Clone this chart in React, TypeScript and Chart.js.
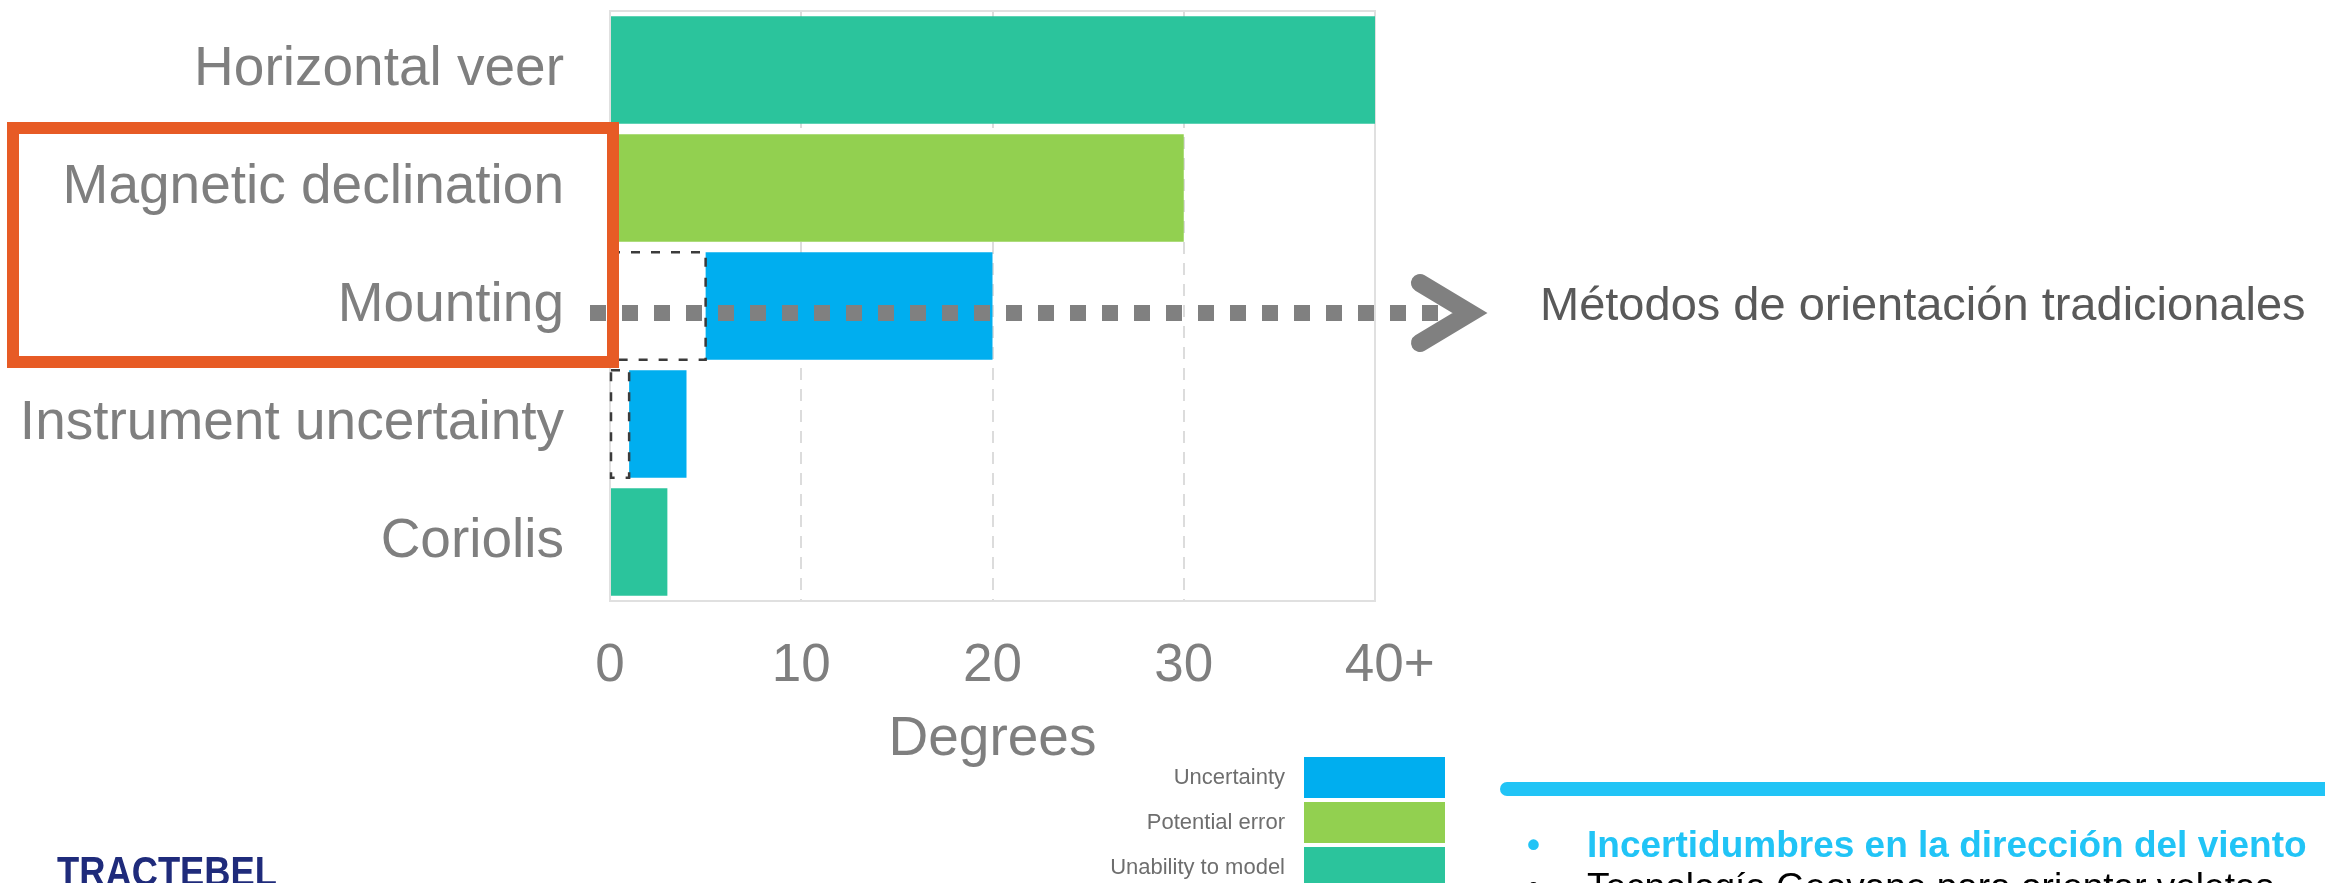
import { useEffect, useRef } from 'react';
import { Chart, registerables } from 'chart.js';

Chart.register(...registerables);

// ---- data -------------------------------------------------------------
const categories = [
  'Horizontal veer',
  'Magnetic declination',
  'Mounting',
  'Instrument uncertainty',
  'Coriolis',
];
// invisible start of a range (drawn as a dashed outline)
const lowerBound = [0, 0, 5, 1, 0];
const uncertainty = [0, 0, 15, 3, 0];
const potentialError = [0, 30, 0, 0, 0];
const unabilityToModel = [40, 0, 0, 0, 3];

const xTickValues = [0, 10, 20, 30, 40];
const xTickLabels = ['0', '10', '20', '30', '40+'];

const seriesNames = ['Lower bound', 'Uncertainty', 'Potential error', 'Unability to model'];

const sideNote = 'Métodos de orientación tradicionales';
const bulletLines = [
  'Incertidumbres en la dirección del viento',
  'Tecnología Geovane para orientar veletas',
];
const logoText = 'TRACTEBEL';

// ---- styling ----------------------------------------------------------
const FONT = '"Liberation Sans", Arial, Helvetica, sans-serif';
const BLUE = '#00AEEF';
const GREEN = '#92D050';
const TEAL = '#2BC49C';
const GREY_TEXT = '#7f7f7f';
const ORANGE = '#E75B25';
const CYAN = '#21C4F6';

const plotFrame = {
  id: 'plotFrame',
  beforeDatasetsDraw(chart: any) {
    const { ctx, chartArea: a } = chart;
    ctx.save();
    ctx.strokeStyle = '#e0e0e0';
    ctx.lineWidth = 2;
    ctx.strokeRect(a.left, a.top, a.right - a.left, a.bottom - a.top);
    ctx.restore();
  },
};

// dashed outline for the lower-bound part of each range bar
const dashedRanges = {
  id: 'dashedRanges',
  afterDatasetsDraw(chart: any) {
    const { ctx } = chart;
    const meta = chart.getDatasetMeta(0);
    ctx.save();
    ctx.setLineDash([9, 11]);
    ctx.lineWidth = 2.5;
    ctx.strokeStyle = '#3b3b3b';
    meta.data.forEach((el: any, i: number) => {
      if (!lowerBound[i]) return;
      const { x, y, base, height } = el.getProps(['x', 'y', 'base', 'height'], true);
      ctx.strokeRect(Math.min(base, x), y - height / 2, Math.abs(x - base), height);
    });
    ctx.restore();
  },
};

const annotations = {
  id: 'annotations',
  afterDraw(chart: any) {
    const { ctx } = chart;
    const yMount = chart.scales.y.getPixelForValue(2) + 7;

    ctx.save();
    // square-dotted pointer from the "Mounting" row
    ctx.strokeStyle = '#808080';
    ctx.lineWidth = 16;
    ctx.lineCap = 'butt';
    ctx.setLineDash([16, 16]);
    ctx.beginPath();
    ctx.moveTo(590, yMount);
    ctx.lineTo(1438, yMount);
    ctx.stroke();

    // chevron head
    ctx.setLineDash([]);
    ctx.lineWidth = 18;
    ctx.lineCap = 'round';
    ctx.lineJoin = 'miter';
    ctx.beginPath();
    ctx.moveTo(1420, yMount - 30);
    ctx.lineTo(1470, yMount);
    ctx.lineTo(1420, yMount + 30);
    ctx.stroke();

    // highlight frame around two categories
    ctx.strokeStyle = ORANGE;
    ctx.lineWidth = 12;
    ctx.lineCap = 'butt';
    ctx.lineJoin = 'miter';
    ctx.strokeRect(13, 128, 600, 234);

    // side note
    ctx.fillStyle = '#595959';
    ctx.font = `47px ${FONT}`;
    ctx.textAlign = 'left';
    ctx.textBaseline = 'alphabetic';
    ctx.fillText(sideNote, 1540, 320);

    // legend
    const legendSets = chart.data.datasets.slice(1);
    ctx.font = `22px ${FONT}`;
    ctx.textAlign = 'right';
    ctx.textBaseline = 'middle';
    legendSets.forEach((ds: any, i: number) => {
      const top = 757 + i * 45;
      ctx.fillStyle = ds.backgroundColor;
      ctx.fillRect(1304, top, 141, 41);
      ctx.fillStyle = '#6e6e6e';
      ctx.fillText(ds.label, 1285, top + 21);
    });

    // cyan rule
    ctx.fillStyle = CYAN;
    ctx.beginPath();
    ctx.roundRect(1500, 782, 860, 14, 7);
    ctx.fill();

    // bullet points
    ctx.textAlign = 'left';
    ctx.textBaseline = 'alphabetic';
    ctx.font = `bold 37px ${FONT}`;
    ctx.fillStyle = CYAN;
    ctx.fillText('\u2022', 1527, 857);
    ctx.fillText(bulletLines[0], 1587, 857);
    ctx.font = `37px ${FONT}`;
    ctx.fillStyle = '#000000';
    ctx.fillText('\u2022', 1527, 899);
    ctx.fillText(bulletLines[1], 1587, 899);

    // logo word
    ctx.font = `bold 42px ${FONT}`;
    ctx.fillStyle = '#1F2B7B';
    ctx.fillText(logoText, 57, 886, 220);

    ctx.restore();
  },
};

export default function App() {
  const ref = useRef<HTMLCanvasElement>(null);

  useEffect(() => {
    const chart = new Chart(ref.current as HTMLCanvasElement, {
      type: 'bar',
      data: {
        labels: categories,
        datasets: [
          { label: seriesNames[0], data: lowerBound, backgroundColor: 'rgba(255,255,255,0)', borderWidth: 0 },
          { label: seriesNames[1], data: uncertainty, backgroundColor: BLUE, borderWidth: 0 },
          { label: seriesNames[2], data: potentialError, backgroundColor: GREEN, borderWidth: 0 },
          { label: seriesNames[3], data: unabilityToModel, backgroundColor: TEAL, borderWidth: 0 },
        ],
      },
      options: {
        indexAxis: 'y',
        responsive: false,
        animation: false,
        devicePixelRatio: 1,
        datasets: { bar: { barPercentage: 0.91, categoryPercentage: 1 } },
        layout: { padding: { top: 11, right: 950, bottom: 0, left: 0 } },
        plugins: { legend: { display: false }, tooltip: { enabled: false } },
        scales: {
          x: {
            type: 'linear',
            stacked: true,
            min: 0,
            max: 40,
            afterBuildTicks: (scale: any) => {
              scale.ticks = xTickValues.map((v) => ({ value: v }));
            },
            afterFit: (scale: any) => {
              scale.height = 282;
            },
            grid: { display: true, color: '#dcdcdc', lineWidth: 2, drawTicks: false },
            border: { display: false, dash: [12, 9] },
            ticks: {
              padding: 34,
              color: GREY_TEXT,
              font: { family: FONT, size: 53 },
              callback: (value: any) => {
                const i = xTickValues.indexOf(Number(value));
                const label = i >= 0 ? xTickLabels[i] : '';
                return label.endsWith('+') ? '\u2007' + label : label;
              },
            },
            title: {
              display: true,
              text: 'Degrees',
              color: GREY_TEXT,
              font: { family: FONT, size: 55 },
              padding: { top: 0, bottom: 110 },
            },
          },
          y: {
            type: 'category',
            stacked: true,
            afterFit: (scale: any) => {
              scale.width = 610;
              scale.paddingTop = 0;
              scale.paddingBottom = 0;
            },
            grid: { display: false, drawTicks: false },
            border: { display: false },
            ticks: {
              padding: 46,
              color: GREY_TEXT,
              font: { family: FONT, size: 55 },
            },
          },
        },
      },
      plugins: [plotFrame, dashedRanges, annotations],
    } as any);
    return () => chart.destroy();
  }, []);

  return (
    <div style={{ position: 'absolute', left: 0, top: 0, width: 2325, height: 883, background: '#ffffff', overflow: 'hidden' }}>
      <canvas ref={ref} width={2325} height={883} style={{ display: 'block' }} />
    </div>
  );
}
